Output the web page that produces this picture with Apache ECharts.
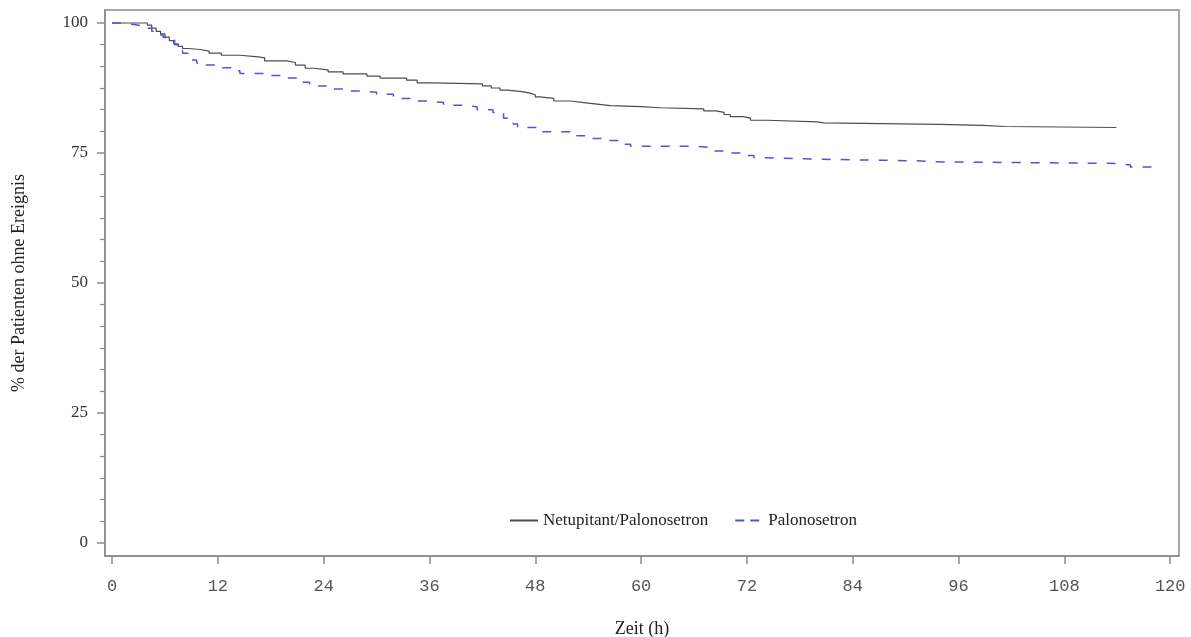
<!DOCTYPE html>
<html>
<head>
<meta charset="utf-8">
<script src="https://cdn.jsdelivr.net/npm/echarts@6/dist/echarts.min.js"></script>
<style>
  html, body { margin: 0; padding: 0; background: #fff; }
  #chart { width: 1191px; height: 637px; }
</style>
</head>
<body>
<div id="chart"></div>
<script>
// Kaplan-Meier estimates: event times (h) and % of patients without event
const netupTimes = [0, 4.0, 4.5, 5.0, 5.5, 6.0, 6.5, 7.0, 7.5, 8.0, 8.6, 10.0, 11.0, 12.4, 14.5, 16.6, 17.3,
  19.8, 20.8, 21.9, 22.8, 24.5, 26.2, 28.9, 30.4, 33.4, 34.6, 36.4, 42.0, 43.0, 44.0, 44.8, 46.5, 47.4,
  48.0, 48.5, 50.1, 52.0, 53.5, 55.0, 56.5, 60.0, 62.2, 67.1, 68.5, 69.4, 70.1, 71.6, 72.4, 74.3, 80.0, 80.7,
  93.9, 98.7, 101.3, 113.9];
const netupValues = [100, 99.6, 99.0, 98.4, 97.9, 97.3, 96.6, 96.0, 95.5, 95.1, 94.9, 94.6, 94.2, 93.8, 93.5, 93.3, 92.7,
  92.4, 91.9, 91.3, 91.0, 90.6, 90.2, 89.8, 89.4, 89.0, 88.5, 88.3, 87.9, 87.5, 87.1, 86.8, 86.5, 86.2,
  85.8, 85.5, 85.0, 84.7, 84.4, 84.1, 83.9, 83.7, 83.5, 83.1, 82.8, 82.4, 82.0, 81.7, 81.3, 81.0, 80.8, 80.5,
  80.3, 80.1, 79.9, 79.9];

const paloTimes = [0, 1.0, 2.5, 3.5, 4.5, 5.2, 5.8, 6.4, 7.1, 7.6, 8.0, 8.6, 9.0, 9.6, 10.1, 12.0, 13.6, 14.5,
  17.7, 19.2, 21.1, 22.4, 24.3, 26.2, 28.1, 30.0, 31.9, 33.8, 35.7, 37.6, 39.5, 41.4, 43.2, 44.4, 45.5,
  46.0, 48.2, 52.7, 54.2, 56.1, 58.0, 58.8, 66.3, 68.2, 70.1, 72.0, 72.8, 73.9, 77.7, 83.7, 91.3, 93.2,
  114.0, 115.5, 118.2];
const paloValues = [100, 99.7, 99.4, 99.0, 98.4, 97.7, 97.2, 96.7, 95.8, 95.0, 94.2, 93.5, 92.9, 92.3, 91.9, 91.4, 90.8, 90.3,
  89.9, 89.4, 88.6, 87.9, 87.3, 86.9, 86.7, 86.3, 85.5, 85.0, 84.7, 84.2, 83.9, 83.3, 82.8, 81.7, 80.6,
  79.9, 79.1, 78.3, 77.8, 77.4, 76.7, 76.3, 76.0, 75.4, 75.0, 74.5, 74.1, 73.9, 73.7, 73.5, 73.3, 73.0,
  72.7, 72.3, 72.2];

const xTicks = [0, 12, 24, 36, 48, 60, 72, 84, 96, 108, 120];
const yTicks = [0, 25, 50, 75, 100];
const yMinorTicks = [];
for (let major = 0; major < 100; major += 25) {
  for (let k = 1; k < 6; k++) yMinorTicks.push(major + k * 25 / 6);
}

const seriesNames = ['Netupitant/Palonosetron', 'Palonosetron'];

const pairs = (ts, vs) => ts.map((t, i) => [t, vs[i]]);

const frameColor = '#8a8a8a';
const serif = '"Liberation Serif", "DejaVu Serif", serif';

const chart = echarts.init(document.getElementById('chart'), null, { renderer: 'canvas' });
chart.setOption({
  animation: false,
  backgroundColor: '#ffffff',
  grid: {
    left: 105, top: 10, right: 12, bottom: 81,
    outerBoundsMode: 'none', containLabel: false,
    show: true, borderColor: frameColor, borderWidth: 1.5, backgroundColor: 'transparent'
  },
  legend: {
    left: 504, top: 507,
    itemWidth: 28, itemHeight: 12, itemGap: 26,
    itemStyle: { opacity: 0 },
    textStyle: { fontFamily: serif, fontSize: 17, color: '#222' },
    data: [
      { name: seriesNames[0] },
      { name: seriesNames[1], lineStyle: { type: [9, 6] } }
    ]
  },
  xAxis: {
    type: 'value', min: -0.8, max: 121,
    name: 'Zeit (h)', nameLocation: 'middle', nameGap: 64,
    nameTextStyle: { fontFamily: serif, fontSize: 18, color: '#222' },
    axisLine: { show: true, onZero: false, lineStyle: { color: frameColor, width: 1.5 } },
    axisTick: { show: true, length: 8, customValues: xTicks, lineStyle: { color: frameColor, width: 1.5 } },
    axisLabel: { customValues: xTicks, margin: 22, fontFamily: '"Liberation Mono", "DejaVu Sans Mono", monospace', fontSize: 17, color: '#555' },
    splitLine: { show: false }
  },
  yAxis: [
    {
      type: 'value', min: -2.5, max: 102.5,
      name: '% der Patienten ohne Ereignis', nameLocation: 'middle', nameGap: 77,
      nameTextStyle: { fontFamily: serif, fontSize: 18, color: '#222' },
      axisLine: { show: true, onZero: false, lineStyle: { color: frameColor, width: 1.5 } },
      axisTick: { show: true, length: 8, customValues: yTicks, lineStyle: { color: frameColor, width: 1.5 } },
      axisLabel: { customValues: yTicks, margin: 17, fontFamily: serif, fontSize: 17, color: '#333' },
      splitLine: { show: false }
    },
    {
      type: 'value', min: -2.5, max: 102.5, position: 'left',
      axisLine: { show: false, onZero: false },
      axisTick: { show: true, length: 5, customValues: yMinorTicks, lineStyle: { color: frameColor, width: 1.2 } },
      axisLabel: { show: false, customValues: yMinorTicks },
      splitLine: { show: false }
    }
  ],
  series: [
    {
      name: seriesNames[0], type: 'line', step: 'end', symbol: 'none',
      data: pairs(netupTimes, netupValues),
      lineStyle: { color: '#4d4d4d', width: 1.2 },
      itemStyle: { color: '#4d4d4d' }
    },
    {
      name: seriesNames[1], type: 'line', step: 'end', symbol: 'none',
      data: pairs(paloTimes, paloValues),
      lineStyle: { color: '#5252e0', width: 1.5, type: [9, 10] },
      itemStyle: { color: '#5252e0' }
    }
  ]
});
</script>
</body>
</html>
